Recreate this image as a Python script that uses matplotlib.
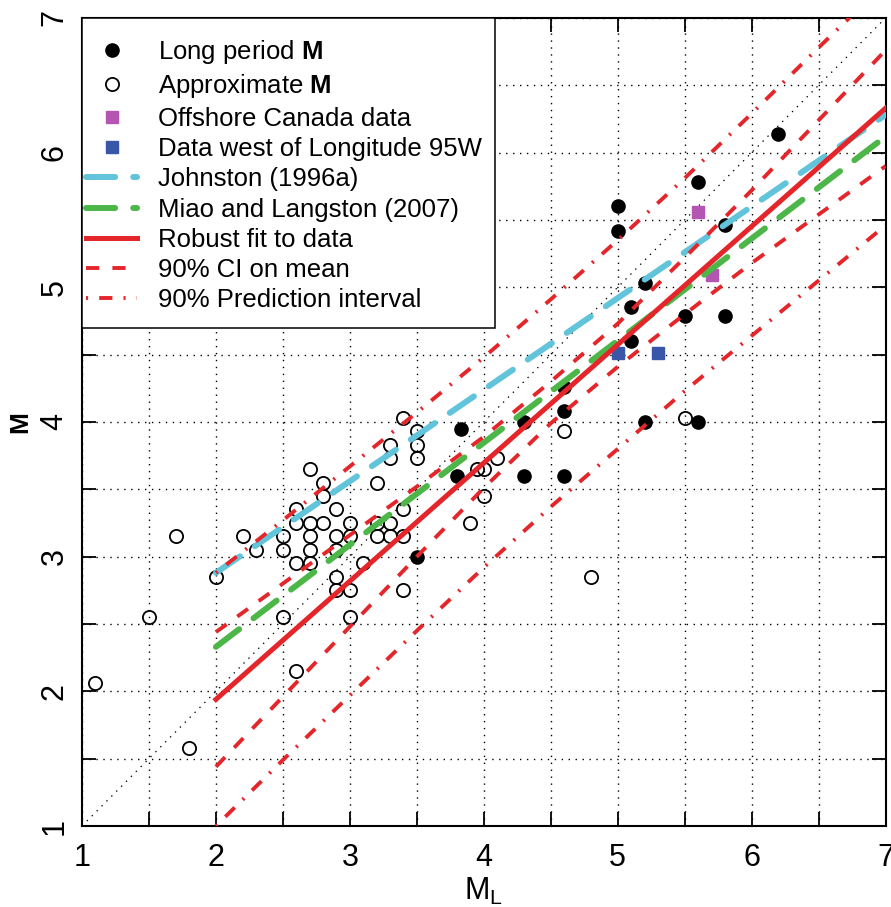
import matplotlib
matplotlib.use('Agg')
import matplotlib.pyplot as plt
from matplotlib.ticker import MultipleLocator
from matplotlib.patches import Rectangle
import matplotlib.font_manager as fm

plt.rcParams['font.family'] = ['Liberation Sans', 'DejaVu Sans']
plt.rcParams['mathtext.fontset'] = 'custom'
plt.rcParams['mathtext.rm'] = 'Liberation Sans'
plt.rcParams['mathtext.bf'] = 'Liberation Sans:bold'
plt.rcParams['lines.scale_dashes'] = False

narrow = 'Liberation Sans Narrow'
names = set(f.name for f in fm.fontManager.ttflist)
if narrow not in names:
    narrow = 'Liberation Sans'

# *** Data *** #
long_ml = [3.5, 3.8, 3.83, 4.3, 4.3, 4.6, 4.6, 4.6, 5.0, 5.0, 5.1, 5.1, 5.2, 5.2,
           5.5, 5.6, 5.6, 5.8, 5.8, 6.2]
long_m = [3.0, 3.6, 3.95, 4.0, 3.6, 4.26, 4.08, 3.6, 5.6, 5.42, 4.85, 4.6, 5.03, 4.0,
          4.79, 5.78, 4.0, 5.46, 4.79, 6.14]

approx_ml = [1.1, 1.5, 1.7, 1.8, 2.0, 2.2, 2.3,
             2.5, 2.5, 2.5,
             2.6, 2.6, 2.6, 2.6,
             2.7, 2.7, 2.7, 2.7, 2.7,
             2.8, 2.8, 2.8,
             2.9, 2.9, 2.9, 2.9, 2.9,
             3.0, 3.0, 3.0, 3.0,
             3.1,
             3.2, 3.2, 3.2,
             3.3, 3.3, 3.3, 3.3,
             3.4, 3.4, 3.4, 3.4,
             3.5, 3.5, 3.5,
             3.9, 3.95, 4.0, 4.0, 4.1,
             4.6, 4.8, 5.5]
approx_m = [2.06, 2.55, 3.15, 1.58, 2.85, 3.15, 3.05,
            3.15, 3.05, 2.55,
            3.35, 3.25, 2.95, 2.15,
            3.65, 3.25, 3.15, 3.05, 2.95,
            3.55, 3.45, 3.25,
            3.35, 3.15, 3.05, 2.85, 2.75,
            3.25, 3.15, 2.75, 2.55,
            2.95,
            3.55, 3.25, 3.15,
            3.83, 3.73, 3.25, 3.15,
            4.03, 3.35, 3.15, 2.75,
            3.93, 3.83, 3.73,
            3.25, 3.65, 3.65, 3.45, 3.73,
            3.93, 2.85, 4.03]

offshore_ml = [5.6, 5.7]
offshore_m = [5.56, 5.09]

west_ml = [5.0, 5.3]
west_m = [4.51, 4.51]

johnston_ml = [2.0, 7.0]
johnston_m = [2.88, 6.28]

miao_ml = [2.0, 7.0]
miao_m = [2.33, 6.12]

fit_ml = [2.0, 7.0]
fit_m = [1.94, 6.33]

band_ml = [2.0, 2.5, 3.0, 3.5, 4.0, 4.5, 5.0, 5.5, 6.0, 6.5, 7.0]
ci_upper = [2.44, 2.80, 3.16, 3.52, 3.89, 4.30, 4.73, 5.22, 5.72, 6.24, 6.76]
ci_lower = [1.44, 1.96, 2.48, 3.00, 3.51, 3.99, 4.41, 4.80, 5.18, 5.54, 5.90]
pi_upper = [2.88, 3.27, 3.67, 4.07, 4.48, 4.91, 5.35, 5.81, 6.29, 6.78, 7.26]
pi_lower = [1.00, 1.49, 1.97, 2.45, 2.92, 3.37, 3.80, 4.23, 4.64, 5.05, 5.46]

RED = '#e4262b'
CYAN = '#62c4da'
GREEN = '#4cb748'
MAGENTA = '#b455b2'
BLUE = '#3a56a8'

fig = plt.figure(figsize=(8.91, 9.07), dpi=100)
ax = fig.add_axes([0.092, 0.0893, 0.902, 0.891])

# 1:1 line
ax.plot([1, 7], [1, 7], color='black', lw=0.9, linestyle=(0, (1, 4)), zorder=1)

# points
ax.plot(long_ml, long_m, 'o', color='black', ms=9.5, label=r'Long period $\mathbf{M}$', zorder=3)
ax.plot(approx_ml, approx_m, 'o', mfc='none', mec='black', mew=1.3, ms=9.5,
        label=r'Approximate $\mathbf{M}$', zorder=3)
ax.plot(offshore_ml, offshore_m, 's', color=MAGENTA, ms=8.5, label='Offshore Canada data', zorder=3)
ax.plot(west_ml, west_m, 's', color=BLUE, ms=8.5, label='Data west of Longitude 95W', zorder=3)

# lines
ax.plot(johnston_ml, johnston_m, color=CYAN, lw=4.3, dashes=(21, 13), dash_capstyle='round',
        label='Johnston (1996a)', zorder=4)
ax.plot(miao_ml, miao_m, color=GREEN, lw=4.3, dashes=(21, 13), dash_capstyle='round',
        label='Miao and Langston (2007)', zorder=4)
ax.plot(fit_ml, fit_m, color=RED, lw=3.6, label='Robust fit to data', zorder=5)
ax.plot(band_ml, ci_upper, color=RED, lw=2.8, dashes=(9.5, 9.5), label='90% CI on mean', zorder=5)
ax.plot(band_ml, ci_lower, color=RED, lw=2.8, dashes=(9.5, 9.5), zorder=5)
ax.plot(band_ml, pi_upper, color=RED, lw=2.8, dashes=(1.5, 8, 9.5, 8),
        label='90% Prediction interval', zorder=5)
ax.plot(band_ml, pi_lower, color=RED, lw=2.8, dashes=(1.5, 8, 9.5, 8), zorder=5)

ax.set_xlim(1, 7)
ax.set_ylim(1, 7)
ax.xaxis.set_major_locator(MultipleLocator(1))
ax.yaxis.set_major_locator(MultipleLocator(1))
ax.xaxis.set_minor_locator(MultipleLocator(0.5))
ax.yaxis.set_minor_locator(MultipleLocator(0.5))
ax.grid(which='both', color='black', lw=1.0, linestyle=(0, (1, 4)), zorder=0)
ax.set_axisbelow(True)
ax.tick_params(which='both', direction='in', length=10, width=1.3, top=True, right=True)
ax.tick_params(axis='x', which='major', labelsize=22, pad=12)
ax.tick_params(axis='y', which='major', labelsize=22, pad=9)
for lab in ax.get_xticklabels() + ax.get_yticklabels():
    lab.set_fontfamily(narrow)
for lab in ax.get_yticklabels():
    lab.set_rotation(90)
    lab.set_va('center')
for sp in ax.spines.values():
    sp.set_linewidth(1.5)

ax.set_xlabel(r'M$_{\mathrm{L}}$', fontsize=22, family=narrow)
ax.xaxis.set_label_coords(0.5, -0.062)
ax.set_ylabel('M', fontsize=19, fontweight='bold')
ax.yaxis.set_label_coords(-0.062, 0.5)

# legend box drawn by hand so the handles sit close to the left edge
box = Rectangle((0, 0.616), 0.514, 0.384, transform=ax.transAxes, facecolor='white',
                edgecolor='black', lw=1.1, zorder=9)
ax.add_patch(box)
leg = ax.legend(loc='upper left', bbox_to_anchor=(0.005, 0.975), borderaxespad=0, borderpad=0,
                fontsize=18.5, numpoints=1, handlelength=2.0, handletextpad=0.8,
                labelspacing=0.245, frameon=False)
leg.set_zorder(10)

fig.savefig('out.png', dpi=100)
